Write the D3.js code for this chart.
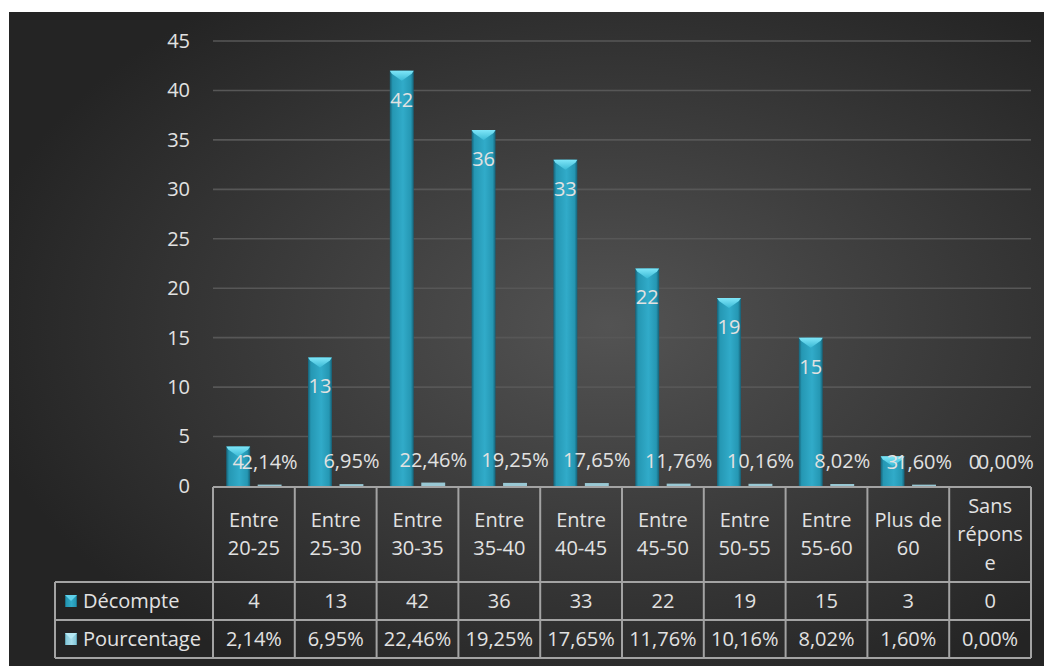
<!DOCTYPE html>
<html>
<head>
<meta charset="utf-8">
<script src="https://cdn.jsdelivr.net/npm/d3@7"></script>
<style>
  html, body { margin: 0; padding: 0; background: #fff; }
  svg { display: block; }
  text { font-family: "Open Sans", Lato, sans-serif; fill: #e2e2e2; }
</style>
</head>
<body>
<svg id="chart" width="1044" height="666"></svg>
<script>
// ---------- data ----------
const categories = [
  ["Entre", "20-25"], ["Entre", "25-30"], ["Entre", "30-35"], ["Entre", "35-40"],
  ["Entre", "40-45"], ["Entre", "45-50"], ["Entre", "50-55"], ["Entre", "55-60"],
  ["Plus de", "60"], ["Sans", "répons", "e"]
];
const decompte = [4, 13, 42, 36, 33, 22, 19, 15, 3, 0];
const pourcentage = [0.0214, 0.0695, 0.2246, 0.1925, 0.1765, 0.1176, 0.1016, 0.0802, 0.0160, 0.0000];
const seriesNames = ["Décompte", "Pourcentage"];
const yTicks = [0, 5, 10, 15, 20, 25, 30, 35, 40, 45];

// ---------- layout ----------
const svg = d3.select("#chart");
const W = 1044, H = 666;
const frame = { x: 9, y: 12 };
const plot = { left: 213, right: 1031, top: 41, bottom: 486 };
const table = { legendLeft: 55, headerBottom: 582, row1Bottom: 620, row2Bottom: 658 };
const FS = 20;
const fmtPct = v => (v * 100).toFixed(2).replace(".", ",") + "%";

const defs = svg.append("defs");
const bg = defs.append("radialGradient").attr("id", "bg")
  .attr("cx", "58%").attr("cy", "48%").attr("r", "62%");
bg.append("stop").attr("offset", "0%").attr("stop-color", "#535353");
bg.append("stop").attr("offset", "100%").attr("stop-color", "#242424");

function barGrad(id, dark, mid, light) {
  const g = defs.append("linearGradient").attr("id", id)
    .attr("x1", "0%").attr("x2", "100%").attr("y1", "0%").attr("y2", "0%");
  g.append("stop").attr("offset", "0%").attr("stop-color", dark);
  g.append("stop").attr("offset", "12%").attr("stop-color", mid);
  g.append("stop").attr("offset", "55%").attr("stop-color", light);
  g.append("stop").attr("offset", "88%").attr("stop-color", mid);
  g.append("stop").attr("offset", "100%").attr("stop-color", dark);
}
barGrad("barA", "#166177", "#2597b3", "#31abc9");
barGrad("barB", "#4e8fa0", "#88c9da", "#a6dcea");
const capG = defs.append("linearGradient").attr("id", "cap")
  .attr("x1", "0%").attr("x2", "0%").attr("y1", "0%").attr("y2", "100%");
capG.append("stop").attr("offset", "0%").attr("stop-color", "#7fe6f8");
capG.append("stop").attr("offset", "100%").attr("stop-color", "#3bbad6");

// background
svg.append("rect").attr("x", frame.x).attr("y", frame.y)
  .attr("width", W - frame.x).attr("height", H - frame.y).attr("fill", "url(#bg)");

// scales
const y = d3.scaleLinear().domain([0, 45]).range([plot.bottom, plot.top]);
const idx = d3.range(categories.length);
const x = d3.scaleBand().domain(idx).range([plot.left, plot.right]).paddingInner(0).paddingOuter(0);
const inner = d3.scaleBand().domain(seriesNames).range([0, x.bandwidth()]).paddingInner(0.24).paddingOuter(0.42);

// gridlines
svg.append("g").selectAll("line").data(yTicks.filter(t => t > 0)).join("line")
  .attr("x1", plot.left).attr("x2", plot.right)
  .attr("y1", d => y(d)).attr("y2", d => y(d))
  .attr("stroke", "#575757").attr("stroke-width", 1.6);

// y axis labels
const yAxis = d3.axisLeft(y).tickValues(yTicks).tickSize(0).tickPadding(0);
const ya = svg.append("g").attr("transform", `translate(190,0)`).call(yAxis);
ya.select(".domain").remove();
ya.selectAll("text").attr("font-size", FS).attr("fill", "#e2e2e2")
  .style("font-family", "'Open Sans', Lato, sans-serif");

// Décompte bars
const bw = inner.bandwidth();
const gA = svg.append("g");
idx.forEach(i => {
  const x0 = x(i) + inner("Décompte");
  const top = y(decompte[i]);
  const h = y(0) - top;
  if (h <= 0) return;
  gA.append("rect").attr("x", x0).attr("y", top).attr("width", bw).attr("height", h)
    .attr("fill", "url(#barA)");
  const capH = Math.min(10, h);
  gA.append("path")
    .attr("d", `M${x0},${top} L${x0 + bw},${top} L${x0 + bw - 2},${top + 3} L${x0 + bw / 2},${top + capH} L${x0 + 2},${top + 3} Z`)
    .attr("fill", "url(#cap)");
});

// Pourcentage bars (on the same axis, values are fractions)
const gB = svg.append("g");
idx.forEach(i => {
  const x0 = x(i) + inner("Pourcentage");
  const top = y(pourcentage[i]);
  const h = y(0) - top;
  if (pourcentage[i] <= 0) return;
  gB.append("rect").attr("x", x0).attr("y", top - 1.2).attr("width", bw).attr("height", h + 1.2)
    .attr("fill", "#a9e0ee").attr("opacity", 0.85);
});

// data labels
const lab = svg.append("g").attr("font-size", FS).attr("text-anchor", "middle");
idx.forEach(i => {
  const cx = x(i) + inner("Décompte") + bw / 2;
  const base = Math.min(y(decompte[i]) + 36, y(0) - 17);
  lab.append("text").attr("x", cx).attr("y", base).text(decompte[i]);
});
idx.forEach(i => {
  const cx = x(i) + inner("Pourcentage") + bw / 2;
  lab.append("text").attr("x", cx).attr("y", y(pourcentage[i]) - 17).text(fmtPct(pourcentage[i]));
});

// ---------- data table ----------
const tg = svg.append("g");
const lineC = "#a3a3a3";
const L = (x1, y1, x2, y2) => tg.append("line").attr("x1", x1).attr("y1", y1).attr("x2", x2).attr("y2", y2)
  .attr("stroke", lineC).attr("stroke-width", 2);
L(plot.left, plot.bottom + 1, plot.right, plot.bottom + 1);
L(table.legendLeft, table.headerBottom, plot.right, table.headerBottom);
L(table.legendLeft, table.row1Bottom, plot.right, table.row1Bottom);
L(table.legendLeft, table.row2Bottom, plot.right, table.row2Bottom);
L(table.legendLeft, table.headerBottom, table.legendLeft, table.row2Bottom);
idx.concat([categories.length]).forEach(i => {
  const xx = i < categories.length ? x(i) : plot.right;
  L(xx, plot.bottom + 1, xx, table.row2Bottom);
});

const tt = svg.append("g").attr("font-size", FS).attr("text-anchor", "middle");
const headMid = (plot.bottom + table.headerBottom) / 2;
const lh = 28.5;
idx.forEach(i => {
  const lines = categories[i];
  const cx = x(i) + x.bandwidth() / 2;
  lines.forEach((s, k) => {
    const cy = headMid + (k - (lines.length - 1) / 2) * lh;
    tt.append("text").attr("x", cx).attr("y", cy + 7).text(s);
  });
  tt.append("text").attr("x", cx).attr("y", (table.headerBottom + table.row1Bottom) / 2 + 7).text(decompte[i]);
  tt.append("text").attr("x", cx).attr("y", (table.row1Bottom + table.row2Bottom) / 2 + 7).text(fmtPct(pourcentage[i]));
});

// legend keys
const rows = [
  { name: seriesNames[0], mid: (table.headerBottom + table.row1Bottom) / 2, fill: "url(#barA)", cap: "#5fd0ea" },
  { name: seriesNames[1], mid: (table.row1Bottom + table.row2Bottom) / 2, fill: "url(#barB)", cap: "#b5e8f4" }
];
rows.forEach(r => {
  const sx = 65, s = 12, sy = r.mid - 6;
  tt.append("rect").attr("x", sx).attr("y", sy).attr("width", s).attr("height", s).attr("fill", r.fill);
  tt.append("path").attr("d", `M${sx},${sy} L${sx + s},${sy} L${sx + s / 2},${sy + 6} Z`).attr("fill", r.cap);
  tt.append("text").attr("x", 83).attr("y", r.mid + 7).attr("text-anchor", "start").text(r.name);
});
</script>
</body>
</html>
